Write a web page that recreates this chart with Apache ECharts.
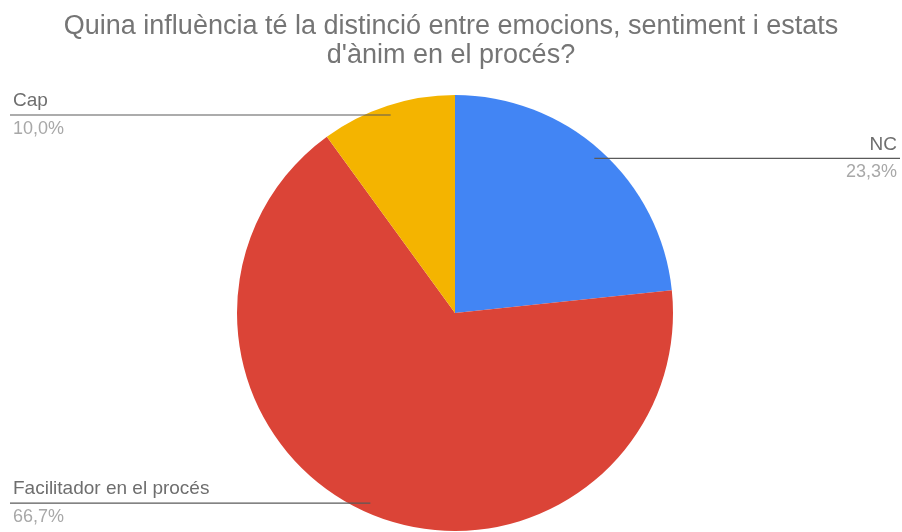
<!DOCTYPE html>
<html>
<head>
<meta charset="utf-8">
<script src="https://cdn.jsdelivr.net/npm/echarts@6/dist/echarts.min.js"></script>
<style>html,body{margin:0;padding:0;background:#fff}#c{width:902px;height:532px}</style>
</head>
<body>
<div id="c"></div>
<script>
const titleText = "Quina influència té la distinció entre emocions, sentiment i estats\nd'ànim en el procés?";
const categories = ["NC", "Facilitador en el procés", "Cap"];
const values = [7, 20, 3];
const colors = ["#4285f4", "#db4437", "#f4b400"];

const W = 902, H = 532;
const CX = 455, CY = 313, R = 218;
const FONT = 'Liberation Sans, Arial, sans-serif';
const total = values.reduce((a, b) => a + b, 0);
const pctText = v => (v / total * 100).toFixed(1).replace('.', ',') + '%';

// mid angles (clockwise from top) derived from data
const mids = [];
let acc = 0;
values.forEach(v => { mids.push((acc + v / 2) / total * 2 * Math.PI); acc += v; });

const pieData = categories.map((c, i) => ({name: c, value: values[i], itemStyle: {color: colors[i]}}));

const chart = echarts.init(document.getElementById('c'), null, {renderer: 'canvas'});
chart.setOption({
  backgroundColor: '#fff',
  animation: false,
  title: {
    text: titleText,
    left: 'center',
    top: 7,
    padding: [5, 5, 5, 25],
    textStyle: {fontFamily: FONT, fontSize: 27, fontWeight: 'normal', color: '#757575', lineHeight: 29}
  },
  series: [{
    type: 'pie',
    z: 2,
    center: [CX, CY],
    radius: [0, R],
    startAngle: 90,
    clockwise: true,
    silent: true,
    data: pieData,
    label: {show: false},
    labelLine: {show: false}
  }, {
    type: 'pie',
    z: 5,
    center: [CX, CY],
    radius: [0, R],
    startAngle: 90,
    clockwise: true,
    silent: true,
    data: categories.map((c, i) => ({name: c, value: values[i], itemStyle: {color: 'rgba(0,0,0,0)'}})),
    label: {
      show: true,
      position: 'outside',
      formatter: p => '{n|' + p.name + '}\n{p|' + pctText(p.value) + '}',
      rich: {
        n: {fontFamily: FONT, fontSize: 19, color: '#6e6e6e', lineHeight: 28},
        p: {fontFamily: FONT, fontSize: 18, color: '#a8a8a8', lineHeight: 28}
      }
    },
    labelLine: {show: true, lineStyle: {color: '#5a5a5a', width: 1.2}},
    labelLayout: function (params) {
      const i = params.dataIndex;
      const a = mids[i];
      const px = CX + 0.955 * R * Math.sin(a);
      const py = CY - 0.955 * R * Math.cos(a);
      const right = Math.sin(a) > 0;
      return {
        x: right ? W - 5 : 13,
        y: py,
        align: right ? 'right' : 'left',
        verticalAlign: 'middle',
        labelLinePoints: [[px, py], [right ? W - 2 : 10, py], [right ? W - 2 : 10, py]]
      };
    }
  }]
});
</script>
</body>
</html>
